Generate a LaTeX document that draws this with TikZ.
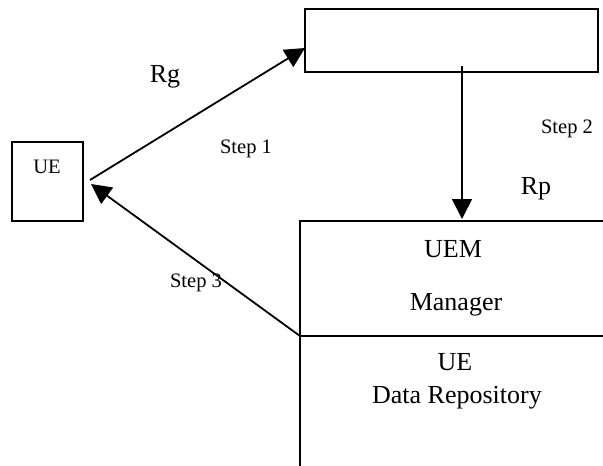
\documentclass[tikz,border=0pt]{standalone}
\usepackage{fontspec}
\setmainfont{Liberation Serif}
\usetikzlibrary{arrows.meta}
\tikzset{
  grande/.style={font=\fontsize{26}{30}\selectfont,anchor=base,inner sep=0pt},
  chica/.style={font=\fontsize{20.5}{24}\selectfont,anchor=base,inner sep=0pt},
  caja/.style={draw,line width=1.8pt,inner sep=0pt},
  flecha/.style={line width=1.8pt,-{Triangle[length=20pt,width=20pt]}}
}
\begin{document}
\begin{tikzpicture}[x=1pt,y=-1pt]
            \useasboundingbox (0,0) rectangle (603,466);
            \node[caja,minimum width=71pt,minimum height=79pt] (ue) at (47.5,181.5) {}; % caja UE
            \node[chica] (uetxt) at (47,173) {UE};
            \node[caja,minimum width=293pt,minimum height=63pt] (srv) at (451.5,40.5) {}; % caja superior
            % caja UEM abierta a la derecha
            \coordinate (uemNO) at (300,221);
            \coordinate (uemNE) at (603,221);
            \coordinate (uemO) at (300,336);
            \coordinate (uemE) at (603,336);
            \coordinate (uemSO) at (300,466);
            \draw[line width=1.8pt] (uemNE) -- (uemNO) -- (uemSO);
            \draw[line width=1.8pt] (uemO) -- (uemE);
            \node[grande] (uem) at (453,257) {UEM};
            \node[grande] (mgr) at (456,310) {Manager};
            \node[grande] (ue2) at (455,370) {UE};
            \node[grande] (repo) at (457,403) {Data Repository};
            % flechas
            \coordinate (a1) at (90,180);
            \coordinate (b1) at (305,48);
            \coordinate (a2) at (462,66);
            \coordinate (b2) at (462,219);
            \coordinate (b3) at (91,184);
            \draw[flecha] (a1) -- (b1); % paso 1
            \draw[flecha] (a2) -- (b2); % paso 2
            \draw[flecha] (uemO) -- (b3); % paso 3
            \node[grande] (rg) at (165,82) {Rg};
            \node[chica] (p1) at (246,153) {Step 1};
            \node[chica] (p2) at (567,133) {Step 2};
            \node[grande] (rp) at (536,194) {Rp};
            \node[chica] (p3) at (196,287) {Step 3};
\end{tikzpicture}
\end{document}
